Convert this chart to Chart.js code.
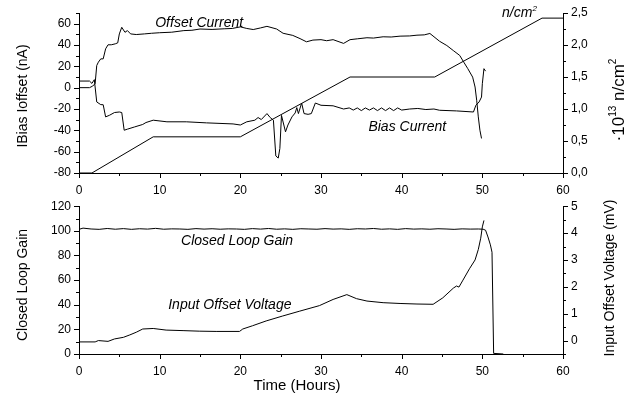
<!DOCTYPE html>
<html>
<head>
<meta charset="utf-8">
<script src="https://cdn.jsdelivr.net/npm/chart.js@4"></script>
<style>
  body { margin: 0; background: #fff; }
  #wrap { position: relative; width: 629px; height: 394px; }
  canvas { position: absolute; left: 0; }
  #top { top: 0; }
  #bottom { top: 196px; }
</style>
</head>
<body>
<div id="wrap">
  <canvas id="top" width="629" height="196"></canvas>
  <canvas id="bottom" width="629" height="198"></canvas>
</div>
<script>
// ---- data ----
// top panel, left axis (nA)
const offsetHours = [0, 1.3, 1.7, 2.0, 2.2, 2.4, 2.7, 3.0, 3.3, 3.6, 4.0, 4.5, 4.8, 5.0, 5.3, 5.7, 6.0, 6.4, 7.1, 8.1,
  9, 10, 11.5, 13, 14, 15, 16.5, 18, 19, 20, 20.8, 21.6, 22.5, 23.3, 24.5, 25.3, 26.5, 27.4, 28.2, 29, 30, 30.7, 31.5,
  32.8, 33.6, 34.5, 35.7, 36.5, 37.7, 38.7, 39.8, 41, 41.9, 42.8, 43.5, 44.7, 45.6, 46.4, 47.2, 47.7, 48.2, 48.8,
  49.1, 49.3, 49.5, 49.7, 49.9];
const offsetCurrent = [0, 0, 1.5, 3.8, 20.8, 23.9, 27, 27, 36.4, 40.2, 40.2, 41.1, 42, 50.4, 56.6, 51.9, 53.5, 50.4, 49.8, 50.4,
  51, 51.5, 52, 53.5, 53.8, 55, 54.6, 55.2, 55.5, 57, 55.5, 54.5, 56, 57.5, 55, 51, 49, 46, 43, 44.6, 45, 44, 45,
  41.5, 45, 45.8, 46.8, 46.5, 47.7, 47.5, 48.3, 48.5, 49.2, 49.5, 50.8, 43.5, 39.5, 34.8, 30.2, 23.9, 17.8, 9.9,
  0.6, -11.8, -27.4, -39.9, -47.6];
const biasHours = [0, 1.3, 1.6, 1.9, 2.2, 2.7, 3.0, 3.3, 3.8, 4.4, 5.0, 5.3, 5.6, 6.0, 6.9, 7.9, 8.3, 9.2, 10.9, 13.3,
  15.8, 19.1, 20, 20.8, 21.8, 22.2, 22.6, 23.3, 23.7, 24.1, 24.4, 24.7, 24.9, 25.1, 25.6, 25.9, 26.4, 26.8, 27.0,
  27.2, 27.6, 27.9, 28.4, 28.8, 29.3, 30, 31.5, 32.8, 33.5, 34, 34.5, 35, 35.5, 36, 36.5, 37, 37.5, 38, 38.5, 39,
  39.5, 40, 41, 42, 43, 44, 44.7, 46.8, 48.9, 49.2, 49.6, 49.9, 50.0, 50.2, 50.4];
const biasCurrent = [6.2, 6.2, 4, 7.5, -13.4, -15.9, -16, -27.4, -25.8, -23.3, -22.8, -23.3, -39.9, -38.9, -36.8, -34.5,
  -32.7, -30.5, -32, -32, -33, -34, -35, -32, -30.5, -28, -29.9, -24.3, -28, -30.5, -64, -66, -57, -26, -41.4, -35,
  -27.4, -23.7, -18.7, -24.3, -14.4, -24.3, -25, -24.3, -14.4, -16.5, -17, -20, -19, -21, -19, -21.5, -19, -21, -19,
  -21.5, -19, -21.5, -19, -21.5, -19, -21, -20, -19.5, -20.5, -20, -21.2, -21.8, -22.8, -16.5, -13.4, -8.8, 3.7,
  17.8, 15.5];
// top panel, right axis (10^13 n/cm2)
const fluenceHours = [0, 1.6, 9.2, 20, 33.6, 44.1, 57.4, 60];
const fluence = [0, 0, 0.565, 0.565, 1.5, 1.5, 2.42, 2.42];
// bottom panel, left axis (gain)
const gainHours = [0, 0.5, 1.5, 2.5, 3.5, 4.5, 5.5, 6.5, 7.5, 8.5, 9.5, 10.5, 11.5, 12.5, 13.5, 14.5, 15.5, 16.5,
  17.5, 18.5, 19.5, 20.5, 21.5, 22.5, 23.5, 24.5, 25.5, 26.5, 27.5, 28.5, 29.5, 30.5, 31.5, 32.5, 33.5, 34.5, 35.5,
  36.5, 37.5, 38.5, 39.5, 40.5, 41.5, 42.5, 43.5, 44.5, 45.5, 46.5, 47.5, 48.5, 49.5, 50.1, 50.4, 50.7, 51.0, 51.2,
  51.4, 52.6];
const gain = [101.2, 102.2, 101.5, 101.2, 101.9, 101.3, 101.8, 101.2, 101.7, 101.4, 102, 101.3, 101.6, 101.5, 101.2,
  101.8, 101.4, 101.7, 101.3, 101.6, 101.5, 101.2, 101.8, 101.4, 101.9, 101.3, 101.6, 101.2, 101.7, 101.5, 101.3,
  101.8, 101.4, 101.6, 101.2, 101.7, 101.5, 101.9, 101.3, 101.6, 101.2, 101.8, 101.4, 101.6, 101.3, 101.7, 101.5,
  101.2, 101.6, 101.4, 101.5, 101.3, 100.5, 95, 88.6, 82.6, 0.5, 0];
// bottom panel, right axis (mV)
const voltHours = [0, 2, 2.4, 3.6, 4.4, 5.5, 6.3, 7.1, 7.9, 9.2, 10.8, 12.9, 14.9, 17, 19.9, 20.3, 21.5, 23.2, 25.2,
  27.3, 29.8, 31.5, 33.2, 34.4, 35.7, 37.7, 39.8, 41.9, 43.9, 45.1, 46.4, 46.8, 47.1, 47.6, 48.4, 49.1, 49.5, 49.8,
  50.0, 50.2];
const inputOffsetVoltage = [-0.05, -0.05, 0.0, -0.03, 0.06, 0.12, 0.21, 0.31, 0.43, 0.45, 0.39, 0.37, 0.35, 0.34, 0.34,
  0.43, 0.55, 0.73, 0.91, 1.09, 1.3, 1.53, 1.71, 1.56, 1.47, 1.41, 1.38, 1.36, 1.35, 1.59, 1.95, 2.03, 1.99, 2.25,
  2.67, 3.0, 3.39, 3.81, 4.23, 4.47];

// ---- styling ----
const FONT = '"Liberation Sans", Arial, sans-serif';
const tickFont = { family: FONT, size: 12 };

function pts(xs, ys) {
  return xs.map((x, i) => ({ x: x, y: ys[i] }));
}

function line(label, xs, ys, axis) {
  return {
    label: label,
    data: pts(xs, ys),
    yAxisID: axis,
    borderColor: '#000',
    borderWidth: 1,
    pointRadius: 0,
    tension: 0,
    fill: false
  };
}

function every(step, fmt) {
  return function (v) {
    const k = v / step;
    if (Math.abs(k - Math.round(k)) > 1e-6) return '';
    return fmt ? fmt(v) : String(Math.round(v));
  };
}

function axis(opts) {
  return Object.assign({
    type: 'linear',
    border: { display: true, color: '#000', width: 1 },
    grid: { drawOnChartArea: false, drawTicks: true, tickLength: 5, color: 'rgba(0,0,0,0)' },
  }, opts);
}

// short outward tick marks, longer on labelled ticks
const tickMarks = {
  id: 'tickMarks',
  afterDraw(chart) {
    const ctx = chart.ctx, a = chart.chartArea;
    ctx.save();
    ctx.strokeStyle = '#000';
    ctx.lineWidth = 1;
    Object.values(chart.scales).forEach(s => {
      s.ticks.forEach(t => {
        const len = (t.label === '' || t.label == null) ? 3 : 5;
        const p = Math.round(s.getPixelForValue(t.value)) + 0.5;
        ctx.beginPath();
        if (s.axis === 'x') {
          ctx.moveTo(p, a.bottom); ctx.lineTo(p, a.bottom + len);
        } else if (s.position === 'left') {
          ctx.moveTo(a.left, p); ctx.lineTo(a.left - len, p);
        } else {
          ctx.moveTo(a.right, p); ctx.lineTo(a.right + len, p);
        }
        ctx.stroke();
      });
    });
    ctx.restore();
  }
};

// axis titles and curve names, text can carry superscripts
const notes = {
  id: 'notes',
  afterDraw(chart, args, opts) {
    const ctx = chart.ctx;
    (opts.items || []).forEach(it => {
      let x = it.px, y = it.py;
      if (it.hour !== undefined) {
        x = chart.scales.x.getPixelForValue(it.hour);
        y = chart.scales[it.axis].getPixelForValue(it.val);
      }
      const size = it.size;
      const parts = it.parts || [[it.text, false]];
      const mainFont = (it.italic ? 'italic ' : '') + size + 'px ' + FONT;
      const supFont = (it.italic ? 'italic ' : '') + Math.round(size * 0.6) + 'px ' + FONT;
      ctx.save();
      ctx.fillStyle = '#000';
      ctx.textBaseline = 'alphabetic';
      ctx.textAlign = 'left';
      let w = 0;
      parts.forEach(p => { ctx.font = p[1] ? supFont : mainFont; w += ctx.measureText(p[0]).width; });
      ctx.translate(x, y);
      if (it.rotate) ctx.rotate(-Math.PI / 2);
      let cx = -w / 2;
      parts.forEach(p => {
        ctx.font = p[1] ? supFont : mainFont;
        ctx.fillText(p[0], cx, p[1] ? -size * 0.45 : 0);
        cx += ctx.measureText(p[0]).width;
      });
      ctx.restore();
    });
  }
};

Chart.register(tickMarks, notes);

const xAxis = h => axis({
  min: 0, max: 60, position: 'bottom',
  ticks: { stepSize: 5, autoSkip: false, maxRotation: 0, padding: 5, color: '#000', font: tickFont, callback: every(10) },
  afterFit(s) { s.height = h; }
});

new Chart(document.getElementById('top'), {
  type: 'line',
  data: {
    datasets: [
      line('Offset Current', offsetHours, offsetCurrent, 'yL'),
      line('Bias Current', biasHours, biasCurrent, 'yL'),
      line('n/cm2', fluenceHours, fluence, 'yR')
    ]
  },
  options: {
    responsive: false,
    animation: false,
    devicePixelRatio: 1,
    layout: { padding: { top: 13, left: 0, right: 0, bottom: 0 } },
    plugins: {
      legend: { display: false },
      tooltip: { enabled: false },
      notes: {
        items: [
          { text: 'IBias Ioffset (nA)', px: 27, py: 96, size: 14, rotate: true },
          { parts: [['\u00b710', false], ['13', true], [' n/cm', false], ['2', true]], px: 624, py: 100, size: 17, rotate: true },
          { text: 'Offset Current', hour: 14.9, axis: 'yL', val: 56.5, size: 14, italic: true },
          { text: 'Bias Current', hour: 40.7, axis: 'yL', val: -40.5, size: 14, italic: true },
          { parts: [['n/cm', false], ['2', true]], hour: 54.6, axis: 'yR', val: 2.43, size: 14, italic: true }
        ]
      }
    },
    scales: {
      x: xAxis(23),
      yL: axis({
        position: 'left', min: -80, max: 70,
        ticks: { stepSize: 10, autoSkip: false, padding: 3, color: '#000', font: tickFont, callback: every(20) },
        afterFit(s) { s.width = 79; }
      }),
      yR: axis({
        position: 'right', min: 0, max: 2.5,
        ticks: { stepSize: 0.25, autoSkip: false, padding: 3, color: '#000', font: tickFont,
          callback: every(0.5, v => v.toFixed(1).replace('.', ',')) },
        afterFit(s) { s.width = 66; }
      })
    }
  }
});

new Chart(document.getElementById('bottom'), {
  type: 'line',
  data: {
    datasets: [
      line('Closed Loop Gain', gainHours, gain, 'yL'),
      line('Input Offset Voltage', voltHours, inputOffsetVoltage, 'yR')
    ]
  },
  options: {
    responsive: false,
    animation: false,
    devicePixelRatio: 1,
    layout: { padding: { top: 6, left: 0, right: 0, bottom: 0 } },
    plugins: {
      legend: { display: false },
      tooltip: { enabled: false },
      notes: {
        items: [
          { text: 'Closed Loop Gain', px: 27, py: 89, size: 14, rotate: true },
          { text: 'Input Offset Voltage (mV)', px: 614, py: 82, size: 14, rotate: true },
          { text: 'Time (Hours)', px: 297, py: 194, size: 15 },
          { text: 'Closed Loop Gain', hour: 19.6, axis: 'yL', val: 88.5, size: 14, italic: true },
          { text: 'Input Offset Voltage', hour: 18.7, axis: 'yL', val: 36.5, size: 14, italic: true }
        ]
      }
    },
    scales: {
      x: xAxis(40),
      yL: axis({
        position: 'left', min: 0, max: 120,
        ticks: { stepSize: 10, autoSkip: false, padding: 3, color: '#000', font: tickFont, callback: every(20) },
        afterFit(s) { s.width = 79; }
      }),
      yR: axis({
        position: 'right', min: -0.5, max: 5,
        ticks: { stepSize: 0.5, autoSkip: false, padding: 3, color: '#000', font: tickFont, callback: every(1) },
        afterFit(s) { s.width = 66; }
      })
    }
  }
});
</script>
</body>
</html>
